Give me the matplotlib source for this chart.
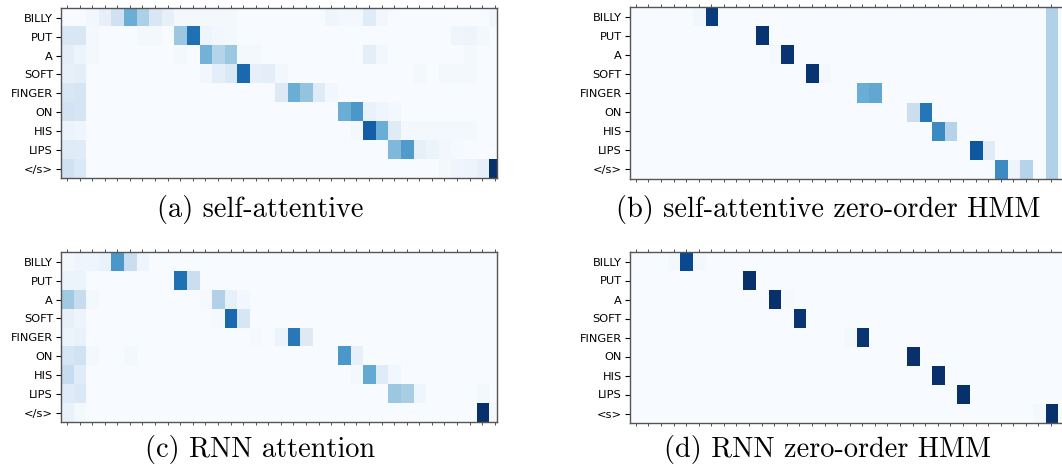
import matplotlib.pyplot as plt
import numpy as np

words = ["BILLY", "PUT", "A", "SOFT", "FINGER", "ON", "HIS", "LIPS", "</s>"]
words_d = ["BILLY", "PUT", "A", "SOFT", "FINGER", "ON", "HIS", "LIPS", "<s>"]
n_cols = 35

# attention weights, one dict per target word: {source column: weight}
self_att = [
    {2: .03, 3: .08, 4: .2, 5: .5, 6: .33, 7: .15, 8: .08, 9: .02, 10: .02, 11: .02, 12: .02,
     13: .02, 21: .04, 22: .02, 23: .02, 24: .12, 25: .03, 34: .03},
    {0: .15, 1: .15, 2: .02, 6: .02, 7: .02, 9: .38, 10: .75, 11: .05, 12: .03, 13: .02,
     31: .04, 32: .05, 33: .02},
    {0: .1, 1: .06, 2: .02, 9: .02, 11: .48, 12: .3, 13: .38, 14: .02, 15: .02, 24: .1,
     25: .03, 32: .02},
    {0: .08, 1: .1, 11: .03, 12: .1, 13: .14, 14: .78, 15: .08, 16: .1, 17: .03,
     28: .02, 30: .02, 31: .02, 32: .02},
    {0: .15, 1: .17, 17: .13, 18: .5, 19: .4, 20: .12, 21: .03},
    {0: .18, 1: .17, 22: .5, 23: .6, 24: .07, 25: .04, 26: .02},
    {0: .06, 1: .04, 23: .02, 24: .82, 25: .5, 26: .12, 27: .02, 28: .02, 29: .02,
     30: .02, 31: .02, 32: .02},
    {0: .12, 1: .12, 26: .45, 27: .58, 28: .08, 29: .06, 30: .03, 31: .01},
    {0: .2, 1: .14, 30: .02, 31: .04, 32: .05, 33: .08, 34: 1.0},
]

self_hmm = [
    {5: .03, 6: .95, 33: .32},
    {10: .98, 33: .32},
    {11: .01, 12: .98, 33: .32},
    {14: .98, 15: .02, 33: .32},
    {18: .5, 19: .53, 33: .32},
    {22: .22, 23: .73, 33: .32},
    {24: .65, 25: .3, 33: .32},
    {27: .85, 28: .12, 33: .32},
    {29: .65, 30: .05, 31: .3, 33: .32},
]

rnn_att = [
    {0: .02, 1: .04, 2: .04, 3: .07, 4: .6, 5: .22, 6: .04},
    {0: .06, 1: .06, 9: .75, 10: .22},
    {0: .37, 1: .24, 2: .02, 11: .01, 12: .32, 13: .08, 14: .03},
    {0: .08, 1: .05, 12: .01, 13: .78, 14: .16},
    {0: .06, 1: .07, 15: .01, 17: .06, 18: .72, 19: .13},
    {0: .16, 1: .19, 2: .02, 5: .02, 22: .6, 23: .08},
    {0: .24, 1: .12, 23: .02, 24: .52, 25: .12, 26: .03},
    {0: .12, 1: .14, 26: .38, 27: .34, 28: .04, 33: .02},
    {0: .07, 1: .02, 33: 1.0, 34: .02},
]

rnn_hmm = [
    {3: .02, 4: .9, 5: .02},
    {9: 1.0},
    {11: 1.0, 12: .01},
    {13: .98},
    {17: .02, 18: .98},
    {22: 1.0},
    {24: 1.0},
    {26: 1.0},
    {32: .02, 33: 1.0},
]

captions = ["(a) self-attentive", "(b) self-attentive zero-order HMM",
            "(c) RNN attention", "(d) RNN zero-order HMM"]


def to_matrix(rows):
    m = np.zeros((len(rows), n_cols))
    for i, row in enumerate(rows):
        for j, v in row.items():
            m[i, j] = v
    return m


W, H = 1062, 466
fig = plt.figure(figsize=(W / 100, H / 100), dpi=100)

# pixel boxes: left, top, width, height (right panels run past the figure edge)
panels = [
    (self_att, words, (60.7, 8.3, 436.6, 170.0)),
    (self_hmm, words, (629.5, 7.3, 436.6, 171.7)),
    (rnn_att, words, (60.7, 252.3, 436.6, 170.0)),
    (rnn_hmm, words_d, (629.5, 252.0, 436.6, 171.0)),
]

for rows, labels, (l, t, w, h) in panels:
    ax = fig.add_axes([l / W, 1 - (t + h) / H, w / W, h / H])
    ax.imshow(to_matrix(rows), cmap="Blues", vmin=0, vmax=1,
              aspect="auto", interpolation="nearest")
    ax.set_xlim(-0.5, 34.2)
    ax.set_xticks(np.arange(n_cols))
    ax.set_xticklabels([])
    ax.set_yticks(np.arange(len(labels)))
    ax.set_yticklabels(labels, fontsize=8.2)
    ax.tick_params(axis="x", top=True, bottom=True, direction="out", length=2,
                   width=0.6, color="#333333")
    ax.tick_params(axis="y", length=3.5, width=0.8, pad=2)
    for s in ax.spines.values():
        s.set_color("#555555")
        s.set_linewidth(1.0)

cap_pos = [(260, 210), (828, 210), (260, 449), (828, 449)]
for text, (x, y) in zip(captions, cap_pos):
    fig.text(x / W, 1 - y / H, text, family="cmr10", fontsize=20.4,
             ha="center", va="center")

fig.savefig("out.png", dpi=100)
